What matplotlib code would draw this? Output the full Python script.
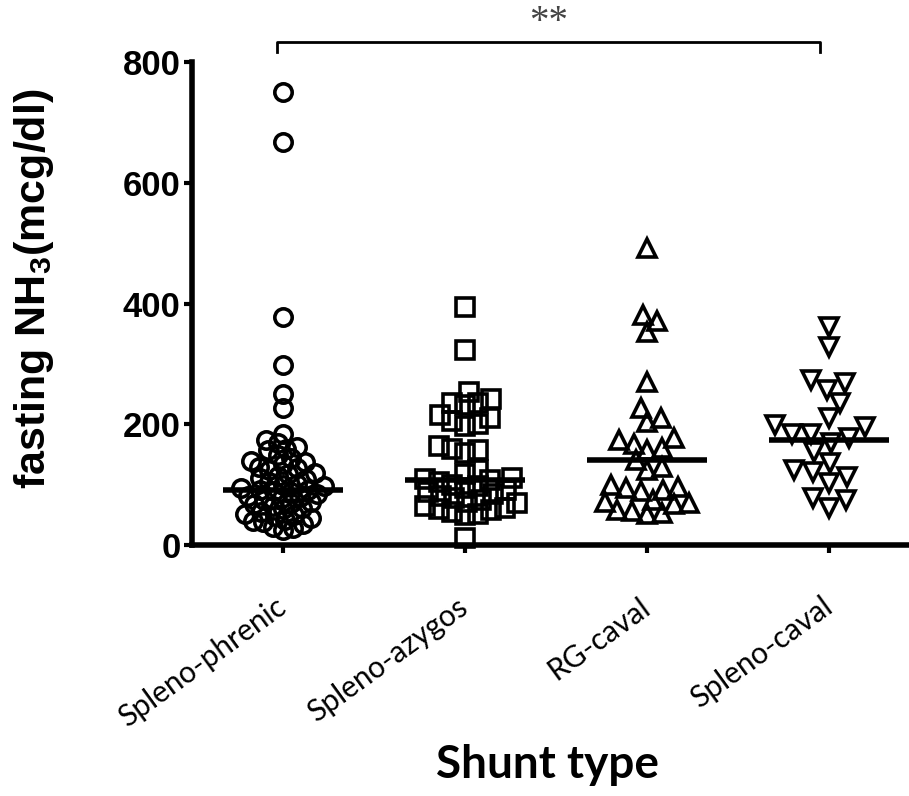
import numpy as np
import matplotlib
matplotlib.use('Agg')
import matplotlib.pyplot as plt

shunts = ['Spleno-phrenic', 'Spleno-azygos', 'RG-caval', 'Spleno-caval']
phrenic = [750, 668, 378, 298, 250, 228, 185,
           175, 170, 162, 160, 158, 150, 145, 140, 138, 135,
           130, 128, 125, 120, 118, 115, 112, 110, 105, 102,
           100, 98, 95, 92, 91, 90, 88, 85, 82, 80,
           78, 75, 72, 70, 68, 65, 62, 60, 55, 52,
           50, 48, 45, 42, 40, 38, 35, 30, 28, 25]
azygos = [394, 323, 253, 242, 236, 235, 232, 215, 210, 205, 200, 198,
          165, 160, 158, 152, 125, 118, 112, 110, 108, 105, 100, 98, 95,
          92, 88, 85, 82, 78, 75, 72, 70, 65, 62, 60, 58, 55, 52, 50, 12]
rg_caval = [492, 381, 372, 353, 270, 227, 210, 204, 177, 174, 168, 161,
            157, 141, 129, 124, 100, 96, 94, 92, 90, 75, 72, 70, 68,
            58, 56, 54, 52]
spleno_caval = [361, 328, 273, 268, 257, 235, 210, 199, 195, 185, 185,
                178, 169, 154, 136, 124, 121, 113, 103, 78, 75, 61]
groups = [phrenic, azygos, rg_caval, spleno_caval]
medians = [91, 108, 141, 174]
markers = ['o', 's', '^', 'v']
gaps = [10.5, 13.5, 15, 19]  # swarm spacing in pixels

plt.rcParams['mathtext.fontset'] = 'custom'
plt.rcParams['mathtext.rm'] = 'Liberation Sans:bold'
plt.rcParams['mathtext.default'] = 'rm'

fig = plt.figure(figsize=(9.09, 7.96), dpi=100)
ax = fig.add_axes([0.211, 0.315, 0.787, 0.607])
ax.set_xlim(-0.5, 3.43)
ax.set_ylim(0, 800)


def swarm(xc, vals, gap):
    # simple beeswarm in pixel space, returns x positions in data units
    pts = ax.transData.transform(np.column_stack([np.full(len(vals), xc), vals]))
    order = np.argsort(vals)
    placed = []
    xs = np.zeros(len(vals))
    for i in order:
        px, py = pts[i]
        cands = [0.0]
        near = [(qx, qy) for qx, qy in placed if abs(qy - py) < gap]
        for qx, qy in near:
            dx = np.sqrt(gap ** 2 - (qy - py) ** 2)
            cands += [qx - px + dx, qx - px - dx]
        cands.sort(key=abs)
        for c in cands:
            if all((px + c - qx) ** 2 + (py - qy) ** 2 >= gap ** 2 - 1e-6 for qx, qy in near):
                break
        placed.append((px + c, py))
        xs[i] = px + c
    back = ax.transData.inverted().transform(np.column_stack([xs, pts[:, 1]]))
    return back[:, 0]


for i, vals in enumerate(groups):
    xs = swarm(i, vals, gaps[i])
    ax.plot(xs, vals, linestyle='none', marker=markers[i], ms=12.5 if i < 2 else 13,
            mfc='none', mec='black', mew=2.6, clip_on=False, zorder=3)
    ax.plot([i - 0.33, i + 0.33], [medians[i], medians[i]], color='black', lw=4, zorder=4,
            solid_capstyle='butt')

for s in ['top', 'right']:
    ax.spines[s].set_visible(False)
for s in ['left', 'bottom']:
    ax.spines[s].set_linewidth(4)
ax.spines['bottom'].set_zorder(5)

ax.set_yticks([0, 200, 400, 600, 800])
ax.tick_params(axis='y', length=6, width=3, labelsize=25, pad=2)
for t in ax.get_yticklabels():
    t.set_fontfamily('Liberation Sans')
    t.set_fontweight('bold')
ax.set_xticks(range(len(shunts)))
ax.set_xticklabels(shunts, rotation=36, ha='right', rotation_mode='anchor',
                   fontfamily='Lato', fontsize=21.5, va='center')
ax.tick_params(axis='x', length=6, width=3, pad=36)

ax.set_ylabel('fasting NH$_3$(mcg/dl)', fontfamily='Liberation Sans', fontweight='bold',
              fontsize=31)
ax.yaxis.set_label_coords(-0.19, 0.53)

fig.text(0.602, 1 - 765 / 796, 'Shunt type', fontfamily='Lato', fontweight='bold',
         fontsize=33, ha='center', va='center')

# significance bracket
ax.plot([-0.03, -0.03, 2.95, 2.95], [816, 833, 833, 816], color='black', lw=2, clip_on=False)
ax.text(1.46, 866, '**', fontfamily='Liberation Serif', fontsize=28, color='#444444',
        ha='center', va='center')

fig.savefig('out.png', dpi=100)
